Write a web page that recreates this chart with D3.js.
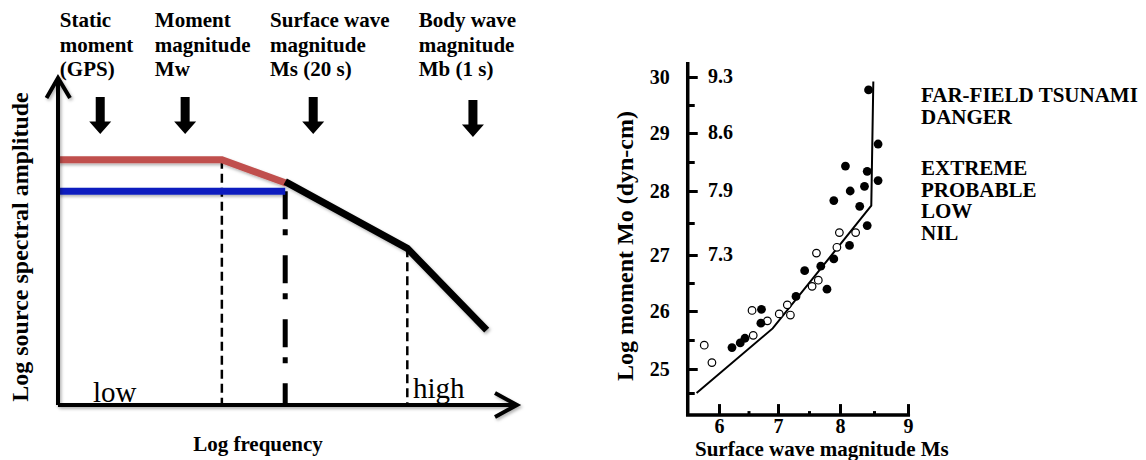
<!DOCTYPE html>
<html>
<head>
<meta charset="utf-8">
<script src="https://cdn.jsdelivr.net/npm/d3@7"></script>
<style>
  body { margin: 0; background: #fff; }
  svg { display: block; font-family: "Liberation Serif", "Times New Roman", serif; }
</style>
</head>
<body>
<svg id="fig" width="1146" height="460"></svg>
<script>
// ---- left panel: schematic source spectrum (log units, 0-100) ----
var redSpectrum = [[0, 75], [35.7, 75], [49.8, 67.8]];
var blueSpectrum = [[0, 65.4], [49.5, 65.4]];
var blackSpectrum = [[49.5, 68.3], [76.1, 47.9], [93.4, 22.9]];
var cornerLines = [
  { f: 35.7, top: 75, kind: 'dash' },
  { f: 49.5, top: 65.4, kind: 'dashdot' },
  { f: 76.1, top: 47.9, kind: 'dash' }
];
var bandLabels = [
  ['Static', 'moment', '(GPS)'],
  ['Moment', 'magnitude', 'Mw'],
  ['Surface wave', 'magnitude', 'Ms (20 s)'],
  ['Body wave', 'magnitude', 'Mb (1 s)']
];
var bandTextAt = [0.4, 21.1, 46.2, 78.6];
var bandArrowAt = [9.2, 27.7, 55.6, 90.4];
var bandArrowTop = [94.2, 94.2, 94.2, 93.3];

// ---- right panel: moment vs surface wave magnitude ----
var msTicks = [6, 7, 8, 9];
var msMinor = [6.5, 7.5, 8.5];
var moTicks = [25, 26, 27, 28, 29, 30];
var moMinor = [24.5, 25.5, 26.5, 27.5, 28.5, 29.5];
var mwAt = [27, 28, 29, 30];
var mwLabels = ['7.3', '7.9', '8.6', '9.3'];
var openPts = [
  [5.75, 25.41], [5.88, 25.11], [6.56, 26.01], [6.58, 25.58], [6.82, 25.83],
  [7.02, 25.95], [7.15, 26.11], [7.20, 25.93], [7.55, 26.44], [7.65, 26.55],
  [7.62, 27.03], [7.95, 27.12], [7.99, 27.35], [8.23, 27.35]
];
var filledPts = [
  [6.22, 25.37], [6.36, 25.45], [6.44, 25.53], [6.71, 25.79], [6.72, 26.03],
  [7.29, 26.26], [7.43, 26.72], [7.69, 26.80], [7.79, 26.39], [7.90, 26.93],
  [8.14, 27.15], [8.40, 27.46], [8.29, 27.76], [7.90, 27.85], [8.15, 28.00],
  [8.36, 28.08], [8.56, 28.18], [8.40, 28.34], [8.08, 28.43], [8.56, 28.81],
  [8.42, 29.77]
];
var dangerCurve = [[5.62, 24.5], [6.91, 25.70], [8.46, 27.77], [8.49, 29.92]];
var dangerTitle = ['FAR-FIELD TSUNAMI', 'DANGER'];
var dangerLevels = ['EXTREME', 'PROBABLE', 'LOW', 'NIL'];

var svg = d3.select('#fig');

// soft shadow like the slide original (user space so straight lines survive)
svg.append('defs').append('filter')
    .attr('id', 'shadow')
    .attr('filterUnits', 'userSpaceOnUse')
    .attr('x', 0).attr('y', 0).attr('width', 1146).attr('height', 460)
  .append('feDropShadow')
    .attr('dx', 1.5).attr('dy', 2)
    .attr('stdDeviation', 1.5)
    .attr('flood-color', '#000')
    .attr('flood-opacity', 0.3);

/* ================= left panel ================= */
var xL = d3.scaleLinear().domain([0, 100]).range([58, 517]);
var yL = d3.scaleLinear().domain([0, 100]).range([405, 78]);
var lineL = d3.line().x(function(d) { return xL(d[0]); }).y(function(d) { return yL(d[1]); });

var left = svg.append('g');

// corner frequency markers
left.selectAll('line.corner')
  .data(cornerLines)
  .enter().append('line')
    .attr('class', 'corner')
    .attr('x1', function(d) { return xL(d.f); })
    .attr('x2', function(d) { return xL(d.f); })
    .attr('y1', function(d) { return yL(d.top); })
    .attr('y2', yL(0))
    .attr('stroke', '#000')
    .attr('stroke-width', function(d) { return d.kind === 'dash' ? 2.5 : 5; })
    .attr('stroke-dasharray', function(d) { return d.kind === 'dash' ? '9,5' : '28,10,6,20'; });

var spectra = left.append('g').attr('filter', 'url(#shadow)');

spectra.append('path')
    .datum(blueSpectrum)
    .attr('d', lineL)
    .attr('fill', 'none')
    .attr('stroke', '#0B1FBF')
    .attr('stroke-width', 7);

spectra.append('path')
    .datum(redSpectrum)
    .attr('d', lineL)
    .attr('fill', 'none')
    .attr('stroke', '#C0504D')
    .attr('stroke-width', 7);

spectra.append('path')
    .datum(blackSpectrum)
    .attr('d', lineL)
    .attr('fill', 'none')
    .attr('stroke', '#000')
    .attr('stroke-width', 7);

// axes with open arrow heads
var axesL = left.append('g')
    .attr('filter', 'url(#shadow)')
    .attr('fill', 'none')
    .attr('stroke', '#000')
    .attr('stroke-width', 4);

axesL.append('path')
    .attr('d', 'M' + xL(0) + ',' + yL(0) + 'V' + (yL(100) + 1) + 'M' + xL(100) + ',' + yL(0) + 'H' + xL(0));
axesL.append('path')
    .attr('d', 'M' + (xL(0) - 11.5) + ',' + (yL(100) + 20) + 'L' + xL(0) + ',' + yL(100) + 'L' + (xL(0) + 12) + ',' + (yL(100) + 20));
axesL.append('path')
    .attr('d', 'M' + (xL(100) - 22) + ',' + (yL(0) - 12) + 'L' + xL(100) + ',' + yL(0) + 'L' + (xL(100) - 22) + ',' + (yL(0) + 12));

// band arrows
function downArrow(cx, top) {
  return 'M' + (cx - 4.5) + ',' + top +
         'H' + (cx + 4.5) + 'V' + (top + 24.5) +
         'H' + (cx + 11) + 'L' + cx + ',' + (top + 37) +
         'L' + (cx - 11) + ',' + (top + 24.5) +
         'H' + (cx - 4.5) + 'Z';
}
left.selectAll('path.band')
  .data(bandArrowAt)
  .enter().append('path')
    .attr('class', 'band')
    .attr('d', function(d, i) { return downArrow(xL(d), yL(bandArrowTop[i])); })
    .attr('fill', '#000');

// band labels
var bands = left.selectAll('text.band')
  .data(bandLabels)
  .enter().append('text')
    .attr('class', 'band')
    .attr('x', function(d, i) { return xL(bandTextAt[i]); })
    .attr('y', 27)
    .attr('font-size', 21)
    .attr('font-weight', 'bold');

bands.selectAll('tspan')
  .data(function(d) { return d; })
  .enter().append('tspan')
    .attr('x', function() { return d3.select(this.parentNode).attr('x'); })
    .attr('dy', function(d, i) { return i === 0 ? 0 : 24.5; })
    .text(function(d) { return d; });

left.append('text')
    .attr('x', 93).attr('y', 402)
    .attr('font-size', 29)
    .text('low');

left.append('text')
    .attr('x', 413).attr('y', 398)
    .attr('font-size', 29)
    .text('high');

left.append('text')
    .attr('x', 258).attr('y', 451)
    .attr('text-anchor', 'middle')
    .attr('font-size', 21)
    .attr('font-weight', 'bold')
    .text('Log frequency');

left.append('text')
    .attr('transform', 'translate(28,247) rotate(-90)')
    .attr('text-anchor', 'middle')
    .attr('font-size', 24)
    .attr('font-weight', 'bold')
    .text('Log source spectral amplitude');

/* ================= right panel ================= */
var msMin = 5.47, msMax = 9.03, moMin = 24.04, moMax = 30.27;
var xR = d3.scaleLinear().domain([6, 7, 8, 9]).range([719, 778, 840, 908]);
var yR = d3.scaleLinear().domain([24.5, 25, 26, 27, 28, 29, 30]).range([393, 369, 311, 255, 191, 133, 77]);

var right = svg.append('g');

// danger curve
right.append('path')
    .datum(dangerCurve)
    .attr('d', d3.line().x(function(d) { return xR(d[0]); }).y(function(d) { return yR(d[1]); }))
    .attr('fill', 'none')
    .attr('stroke', '#000')
    .attr('stroke-width', 2);

// axis lines
right.append('path')
    .attr('d', 'M' + xR(msMin) + ',' + yR(moMax) + 'V' + yR(moMin) + 'H' + xR(msMax))
    .attr('fill', 'none')
    .attr('stroke', '#000')
    .attr('stroke-width', 3.5);

var yAxis = right.append('g')
    .attr('transform', 'translate(' + xR(msMin) + ',0)')
    .call(d3.axisLeft(yR).tickValues(moTicks).tickSize(-10).tickPadding(18).tickFormat(d3.format('d')));
var yMinorAxis = right.append('g')
    .attr('transform', 'translate(' + xR(msMin) + ',0)')
    .call(d3.axisLeft(yR).tickValues(moMinor).tickSize(-7).tickFormat(''));
var xAxis = right.append('g')
    .attr('transform', 'translate(0,' + yR(moMin) + ')')
    .call(d3.axisBottom(xR).tickValues(msTicks).tickSize(-11).tickPadding(4).tickFormat(d3.format('d')));
var xMinorAxis = right.append('g')
    .attr('transform', 'translate(0,' + yR(moMin) + ')')
    .call(d3.axisBottom(xR).tickValues(msMinor).tickSize(-4).tickFormat(''));

[yAxis, yMinorAxis, xAxis, xMinorAxis].forEach(function(ax) {
  ax.select('.domain').remove();
  ax.selectAll('.tick line').attr('stroke', '#000').attr('stroke-width', 3);
  ax.selectAll('.tick text')
      .attr('fill', '#000')
      .attr('font-family', '"Liberation Serif", "Times New Roman", serif')
      .attr('font-size', 20)
      .attr('font-weight', 'bold');
});

// Mw equivalents to the right of the moment axis
right.selectAll('text.mw')
  .data(mwAt)
  .enter().append('text')
    .attr('class', 'mw')
    .attr('x', 708)
    .attr('y', function(d) { return yR(d); })
    .attr('dy', '0.32em')
    .attr('font-size', 20)
    .attr('font-weight', 'bold')
    .text(function(d, i) { return mwLabels[i]; });

// data points
right.selectAll('circle.open')
  .data(openPts)
  .enter().append('circle')
    .attr('class', 'open')
    .attr('cx', function(d) { return xR(d[0]); })
    .attr('cy', function(d) { return yR(d[1]); })
    .attr('r', 3.8)
    .attr('fill', '#fff')
    .attr('stroke', '#000')
    .attr('stroke-width', 1.2);

right.selectAll('circle.filled')
  .data(filledPts)
  .enter().append('circle')
    .attr('class', 'filled')
    .attr('cx', function(d) { return xR(d[0]); })
    .attr('cy', function(d) { return yR(d[1]); })
    .attr('r', 4.4)
    .attr('fill', '#000');

right.append('text')
    .attr('x', 695).attr('y', 456)
    .attr('font-size', 21)
    .attr('font-weight', 'bold')
    .text('Surface wave magnitude Ms');

right.append('text')
    .attr('transform', 'translate(633,246) rotate(-90)')
    .attr('text-anchor', 'middle')
    .attr('font-size', 24)
    .attr('font-weight', 'bold')
    .text('Log moment Mo (dyn-cm)');

// danger legend: one text block per group, lines as tspans
function textBlock(lines, y0, step) {
  right.append('text')
      .attr('x', 921)
      .attr('y', y0)
      .attr('font-size', 21)
      .attr('font-weight', 'bold')
    .selectAll('tspan')
    .data(lines)
    .enter().append('tspan')
      .attr('x', 921)
      .attr('dy', function(d, i) { return i === 0 ? 0 : step; })
      .text(function(d) { return d; });
}
textBlock(dangerTitle, 101.5, 22);
textBlock(dangerLevels, 175, 21.7);
</script>
</body>
</html>
